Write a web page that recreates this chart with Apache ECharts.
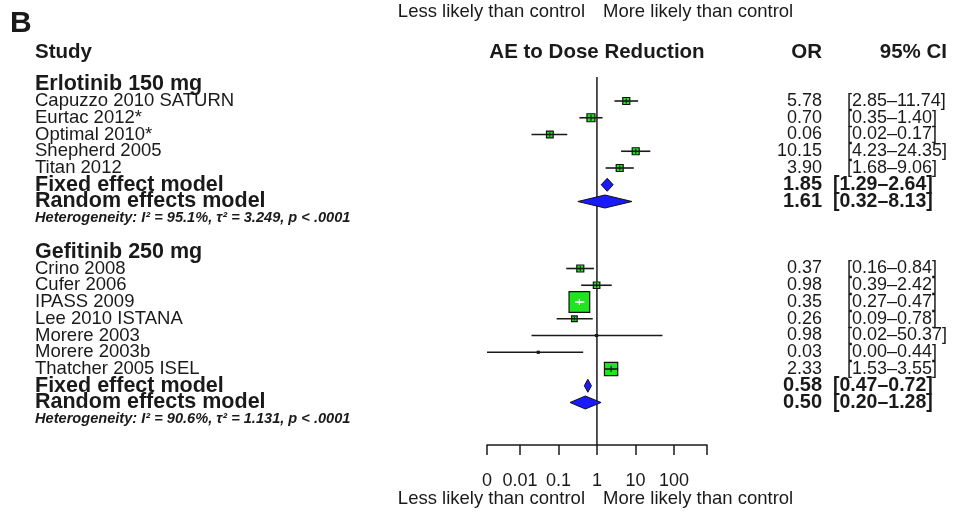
<!DOCTYPE html>
<html><head><meta charset="utf-8">
<script src="https://cdn.jsdelivr.net/npm/echarts@6/dist/echarts.min.js"></script>
<style>html,body{margin:0;padding:0;background:#fff}#c{width:956px;height:513px}</style>
</head><body><div id="c"></div>
<script>
// ---------------- data ----------------
const groupNames = ["Erlotinib 150 mg", "Gefitinib 250 mg"];

const erlStudies = ["Capuzzo 2010 SATURN", "Eurtac 2012*", "Optimal 2010*", "Shepherd 2005", "Titan 2012"];
const erlOR     = [5.78, 0.70, 0.06, 10.15, 3.90];
const erlLower  = [2.85, 0.35, 0.02, 4.23, 1.68];
const erlUpper  = [11.74, 1.40, 0.17, 24.35, 9.06];
const erlWeight = [6.7, 8.8, 6.2, 6.7, 6.7];

const gefStudies = ["Crino 2008", "Cufer 2006", "IPASS 2009", "Lee 2010 ISTANA", "Morere 2003", "Morere 2003b", "Thatcher 2005 ISEL"];
const gefOR     = [0.37, 0.98, 0.35, 0.26, 0.98, 0.03, 2.33];
const gefLower  = [0.16, 0.39, 0.27, 0.09, 0.02, 0.00, 1.53];
const gefUpper  = [0.84, 2.42, 0.47, 0.78, 50.37, 0.44, 3.55];
const gefWeight = [6.7, 5.8, 58.6, 4.4, 0.2, 0.2, 24.2];

const summaryNames = ["Fixed effect model", "Random effects model"];
const erlSumOR    = [1.85, 1.61];
const erlSumLower = [1.29, 0.32];
const erlSumUpper = [2.64, 8.13];
const gefSumOR    = [0.58, 0.50];
const gefSumLower = [0.47, 0.20];
const gefSumUpper = [0.72, 1.28];

const hetI2   = ["95.1%", "90.6%"];
const hetTau2 = ["3.249", "1.131"];
const hetP    = ["< .0001", "< .0001"];

const axisMinOR = 0.0014;
const axisMaxOR = 720;
const tickValues = [0.0014, 0.01, 0.1, 1, 10, 100, 720];
const tickLabels = ["0", "0.01", "0.1", "1", "10", "100", ""];

// ---------------- layout / style ----------------
const FONT = 'Liberation Sans, Arial, Helvetica, sans-serif';
const INK = '#1a1a1a';
const BOX_K = 2.7;
const xMin = Math.log10(axisMinOR), xMax = Math.log10(axisMaxOR);
const yMin = -1.433, yMax = 20.537;
const clampLog = v => (v <= 0 ? xMin : Math.min(xMax, Math.max(xMin, Math.log10(v))));
const f2 = v => v.toFixed(2);

const groups = [
  {name: groupNames[0], studies: erlStudies, or: erlOR, lo: erlLower, hi: erlUpper, w: erlWeight,
   sOR: erlSumOR, sLo: erlSumLower, sHi: erlSumUpper},
  {name: groupNames[1], studies: gefStudies, or: gefOR, lo: gefLower, hi: gefUpper, w: gefWeight,
   sOR: gefSumOR, sLo: gefSumLower, sHi: gefSumUpper}
];

const textRows = [];   // {row, label, kind, or, ci}
const marks = [];      // [logEst, logLo, logHi, row, weight, kind]
let r = -1;
groups.forEach((g, gi) => {
  textRows.push({row: r, label: g.name, kind: 'head'}); r++;
  g.studies.forEach((s, i) => {
    textRows.push({row: r, label: s, kind: 'study', or: f2(g.or[i]), ci: '[' + f2(g.lo[i]) + '\u2013' + f2(g.hi[i]) + ']'});
    marks.push([clampLog(g.or[i]), clampLog(g.lo[i]), clampLog(g.hi[i]), r, g.w[i], 0]);
    r++;
  });
  summaryNames.forEach((s, i) => {
    textRows.push({row: r, label: s, kind: 'sum', or: f2(g.sOR[i]), ci: '[' + f2(g.sLo[i]) + '\u2013' + f2(g.sHi[i]) + ']'});
    marks.push([clampLog(g.sOR[i]), clampLog(g.sLo[i]), clampLog(g.sHi[i]), r, 0, 1]);
    r++;
  });
  textRows.push({row: r, label: 'Heterogeneity: I\u00B2 = ' + hetI2[gi] + ', \u03C4\u00B2 = ' + hetTau2[gi] + ', p ' + hetP[gi], kind: 'het'});
  r += 2;
});

function txt(x, y, text, size, weight, align, style) {
  return {type: 'text', x: x, y: y, silent: true,
    style: {text: text, fontSize: size, fontWeight: weight || 'normal', fontStyle: style || 'normal',
      fontFamily: FONT, fill: INK, align: align || 'left', verticalAlign: 'middle'}};
}

function renderLabels(params, api) {
  const t = textRows[api.value(2)];
  const y = api.coord([xMin, t.row])[1];
  const ch = [];
  if (t.kind === 'head') ch.push(txt(35, y, t.label, 21.5, 'bold'));
  else if (t.kind === 'study') {
    ch.push(txt(35, y, t.label, 18.5));
    ch.push(txt(822, y, t.or, 18, 'normal', 'right'));
    ch.push(txt(847, y, t.ci, 18));
  } else if (t.kind === 'sum') {
    ch.push(txt(35, y, t.label, 21.5, 'bold'));
    ch.push(txt(822, y, t.or, 20, 'bold', 'right'));
    ch.push(txt(833, y, t.ci, 19.5, 'bold'));
  } else {
    ch.push(txt(35, y, t.label, 14.6, 'bold', 'left', 'italic'));
  }
  return {type: 'group', children: ch};
}

function renderForest(params, api) {
  const pe = api.coord([api.value(0), api.value(3)]);
  const plo = api.coord([api.value(1), api.value(3)]);
  const phi = api.coord([api.value(2), api.value(3)]);
  const w = api.value(4), kind = api.value(5);
  const y = pe[1];
  if (kind === 1) {
    const h = 13;
    return {type: 'polygon', shape: {points: [[plo[0], y], [pe[0], y - h / 2], [phi[0], y], [pe[0], y + h / 2]]},
      style: {fill: '#1a1aff', stroke: '#111', lineWidth: 1}};
  }
  const s = Math.max(BOX_K * Math.sqrt(w), 2);
  const inside = plo[0] >= pe[0] - s / 2 && phi[0] <= pe[0] + s / 2;
  const lc = inside ? '#ffffff' : INK;
  const ch = [
    {type: 'rect', shape: {x: pe[0] - s / 2, y: y - s / 2, width: s, height: s},
      style: {fill: '#1ee61e', stroke: '#111', lineWidth: 1.2}},
    {type: 'line', shape: {x1: plo[0], y1: y, x2: phi[0], y2: y}, style: {stroke: lc, lineWidth: 1.6}}
  ];
  if (s >= 4) {
    const th = Math.min(s - 2, 6);
    ch.push({type: 'line', shape: {x1: pe[0], y1: y - th / 2, x2: pe[0], y2: y + th / 2}, style: {stroke: lc, lineWidth: 1.2}});
  } else {
    ch.push({type: 'circle', shape: {cx: pe[0], cy: y, r: 1.6}, style: {fill: INK}});
  }
  return {type: 'group', children: ch};
}

const chart = echarts.init(document.getElementById('c'), null, {renderer: 'canvas'});
chart.setOption({
  animation: false,
  backgroundColor: '#ffffff',
  grid: {left: 487, top: 77, width: 220, height: 368},
  xAxis: {
    type: 'value', min: xMin, max: xMax, position: 'bottom',
    axisLine: {show: true, onZero: false, lineStyle: {color: INK, width: 1.5}},
    axisTick: {show: true, length: 10, inside: false, lineStyle: {color: INK, width: 1.5},
      customValues: tickValues.map(v => Math.log10(v))},
    axisLabel: {show: true, margin: 27, fontSize: 18, fontFamily: FONT, color: INK,
      customValues: tickValues.slice(0, 6).map(v => Math.log10(v)),
      formatter: v => {
        let best = 0, d = Infinity;
        tickValues.forEach((t, i) => { const dd = Math.abs(Math.log10(t) - v); if (dd < d) { d = dd; best = i; } });
        return tickLabels[best];
      }},
    splitLine: {show: false}
  },
  yAxis: {type: 'value', inverse: true, min: yMin, max: yMax, show: false},
  graphic: [
    txt(10, 24, 'B', 30, 'bold'),
    txt(585, 12, 'Less likely than control', 18.5, 'normal', 'right'),
    txt(603, 12, 'More likely than control', 18.5, 'normal', 'left'),
    txt(35, 52, 'Study', 20.5, 'bold'),
    txt(597, 52, 'AE to Dose Reduction', 20.5, 'bold', 'center'),
    txt(822, 52, 'OR', 20.5, 'bold', 'right'),
    txt(947, 52, '95% CI', 20.5, 'bold', 'right'),
    txt(585, 499, 'Less likely than control', 18.5, 'normal', 'right'),
    txt(603, 499, 'More likely than control', 18.5, 'normal', 'left')
  ],
  series: [
    {type: 'line', z: 1, data: [[0, yMin], [0, yMax]], symbol: 'none', silent: true,
      lineStyle: {color: INK, width: 1.5}},
    {type: 'custom', z: 3, clip: false, renderItem: renderForest, data: marks, silent: true},
    {type: 'custom', z: 4, clip: false, renderItem: renderLabels, data: textRows.map((t, i) => [xMin, t.row, i]), silent: true}
  ]
});
</script></body></html>
